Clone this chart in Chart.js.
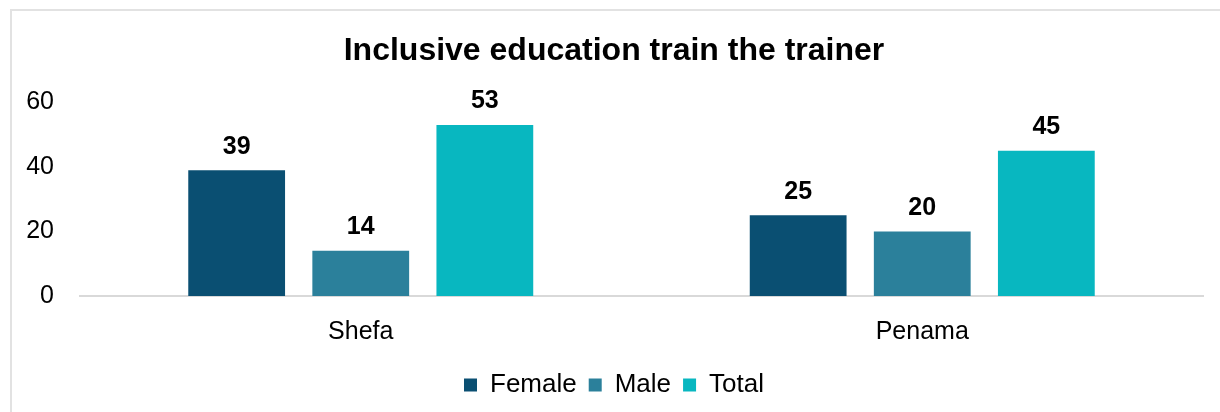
<!DOCTYPE html>
<html>
<head>
<meta charset="utf-8">
<script src="https://cdn.jsdelivr.net/npm/chart.js@4/dist/chart.umd.min.js"></script>
<style>
  html, body { margin: 0; padding: 0; background: #fff; overflow: hidden; }
  #wrap { position: relative; width: 1220px; height: 412px; }
  #frame {
    position: absolute; left: 10px; top: 9px; width: 1300px; height: 500px;
    border-top: 2px solid #e2e2e2; border-left: 2px solid #e2e2e2;
    pointer-events: none;
  }
</style>
</head>
<body>
<div id="wrap">
  <canvas id="chart" width="1220" height="412"></canvas>
  <div id="frame"></div>
</div>
<script>
const regions = ['Shefa', 'Penama'];
const female = [39, 25];
const male = [14, 20];
const total = [53, 45];
const yTicks = [0, 20, 40, 60];

// draw value labels above each bar
const barLabels = {
    id: 'barLabels',
    afterDatasetsDraw(chart) {
        const ctx = chart.ctx;
        ctx.save();
        ctx.font = 'bold 25px "Liberation Sans", Arial, sans-serif';
        ctx.fillStyle = '#000';
        ctx.textAlign = 'center';
        ctx.textBaseline = 'bottom';
        chart.data.datasets.forEach((ds, i) => {
            chart.getDatasetMeta(i).data.forEach((bar, j) => {
                ctx.fillText(ds.data[j], bar.x, bar.y - 11);
            });
        });
        ctx.restore();
    }
};

const data = {
    labels: regions,
    datasets: [
        { label: 'Female', data: female, backgroundColor: '#0a4f72' },
        { label: 'Male', data: male, backgroundColor: '#2b809b' },
        { label: 'Total', data: total, backgroundColor: '#08b7c0' }
    ]
};

const config = {
    type: 'bar',
    data: data,
    options: {
        responsive: false,
        animation: false,
        categoryPercentage: 0.663,
        barPercentage: 0.78,
        layout: { padding: { left: 25, right: 17, top: 18, bottom: 4 } },
        font: { family: '"Liberation Sans", Arial, sans-serif' },
        plugins: {
            title: {
                display: true,
                text: 'Inclusive education train the trainer',
                color: '#000',
                font: { size: 32, weight: 'bold', family: '"Liberation Sans", Arial, sans-serif' },
                padding: { top: 14, bottom: 32 }
            },
            legend: {
                position: 'bottom',
                labels: {
                    color: '#000',
                    boxWidth: 13,
                    boxHeight: 13,
                    padding: 12,
                    font: { size: 26, family: '"Liberation Sans", Arial, sans-serif' }
                }
            },
            tooltip: { enabled: false }
        },
        scales: {
            y: {
                min: 0,
                max: 60,
                afterBuildTicks: axis => { axis.ticks = yTicks.map(v => ({ value: v })); },
                afterFit: axis => { axis.width = 55; },
                grid: { display: false },
                border: { display: false },
                ticks: {
                    color: '#000',
                    padding: 18,
                    font: { size: 25, family: '"Liberation Sans", Arial, sans-serif' }
                }
            },
            x: {
                grid: { display: false },
                border: { color: '#d9d9d9', width: 2 },
                ticks: {
                    color: '#000',
                    padding: 13,
                    font: { size: 25, family: '"Liberation Sans", Arial, sans-serif' }
                }
            }
        }
    },
    plugins: [barLabels]
};

new Chart(document.getElementById('chart'), config);
</script>
</body>
</html>
